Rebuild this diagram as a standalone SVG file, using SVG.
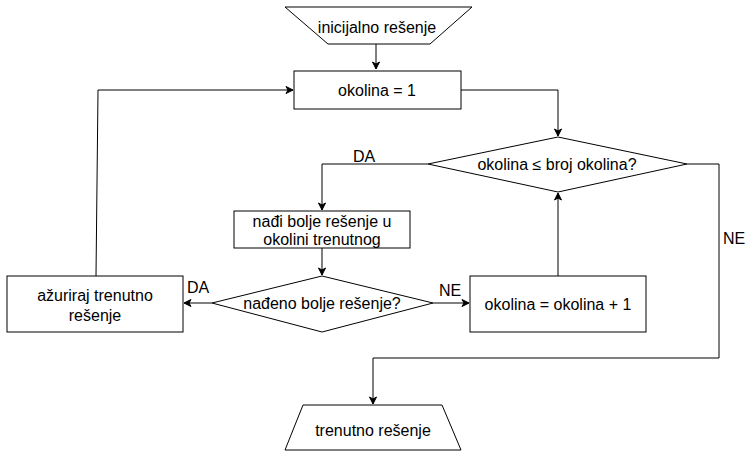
<svg xmlns="http://www.w3.org/2000/svg" width="748" height="452" viewBox="0 0 748 452">
<defs>
<marker id="arr" markerWidth="10" markerHeight="10" refX="8" refY="5" orient="auto" markerUnits="userSpaceOnUse">
<path d="M1,1.5 L8,5 L1,8.5 L3,5 Z" fill="#000" stroke="#000" stroke-width="1"/>
</marker>
<style>
.s{fill:#fff;stroke:#000;stroke-width:1}
.c{fill:none;stroke:#000;stroke-width:1}
text{font-family:"Liberation Sans",Arial,sans-serif;font-size:16px;fill:#000;text-anchor:middle;dominant-baseline:central}
</style>
</defs>
<rect width="748" height="452" fill="#fff"/>
<g id="connectors">
<path class="c" d="M376,44 L376,69" marker-end="url(#arr)"/>
<path class="c" d="M461,90 L558,90 L558,136" marker-end="url(#arr)"/>
<path class="c" d="M428,164 L322,164 L322,210" marker-end="url(#arr)"/>
<path class="c" d="M322,248 L322,275" marker-end="url(#arr)"/>
<path class="c" d="M212,303 L184,303" marker-end="url(#arr)"/>
<path class="c" d="M96,276 L98,90 L293,90" marker-end="url(#arr)"/>
<path class="c" d="M433,303 L469,303" marker-end="url(#arr)"/>
<path class="c" d="M558,276 L558,193" marker-end="url(#arr)"/>
<path class="c" d="M687,164 L719,164 L719,358 L373,358 L373,404" marker-end="url(#arr)"/>
<text x="364" y="156">DA</text>
<text x="198" y="287">DA</text>
<text x="450" y="290">NE</text>
<text x="734" y="238">NE</text>
</g>
<g id="start">
<polygon class="s" points="285,7 472,7 430,44 328,44"/>
<text x="377" y="27">inicijalno rešenje</text>
</g>
<g id="init">
<rect class="s" x="294" y="71" width="167" height="38"/>
<text x="377" y="90">okolina = 1</text>
</g>
<g id="cond1">
<polygon class="s" points="558,137 687,164 558,192 428,164"/>
<text x="557" y="164">okolina ≤ broj okolina?</text>
</g>
<g id="find">
<rect class="s" x="234" y="211" width="176" height="37"/>
<text x="322" y="221">nađi bolje rešenje u</text>
<text x="322" y="239">okolini trenutnog</text>
</g>
<g id="cond2">
<polygon class="s" points="322,276 433,303 322,332 212,303"/>
<text x="322" y="303">nađeno bolje rešenje?</text>
</g>
<g id="update">
<rect class="s" x="7" y="276" width="176" height="56"/>
<text x="95" y="295">ažuriraj trenutno</text>
<text x="95" y="315">rešenje</text>
</g>
<g id="incr">
<rect class="s" x="470" y="276" width="176" height="56"/>
<text x="558" y="304">okolina = okolina + 1</text>
</g>
<g id="end">
<polygon class="s" points="303,405 442,405 461,450 285,450"/>
<text x="373" y="430">trenutno rešenje</text>
</g>
</svg>
